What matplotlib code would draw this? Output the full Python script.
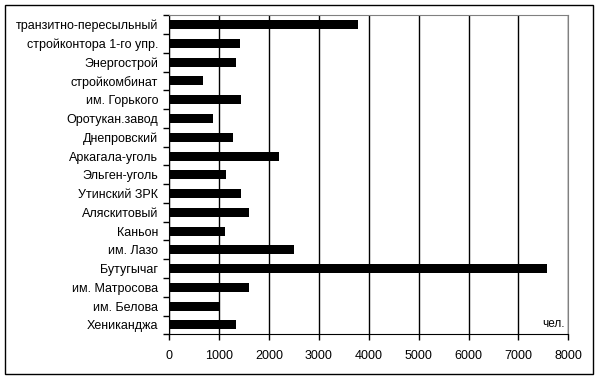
import numpy as np
import matplotlib
matplotlib.use('Agg')
import matplotlib.pyplot as plt
from matplotlib.patches import Rectangle

# данные (сверху вниз)
names = ['транзитно-пересыльный', 'стройконтора 1-го упр.', 'Энергострой', 'стройкомбинат',
         'им. Горького', 'Оротукан.завод', 'Днепровский', 'Аркагала-уголь', 'Эльген-уголь',
         'Утинский ЗРК', 'Аляскитовый', 'Каньон', 'им. Лазо', 'Бутугычаг', 'им. Матросова',
         'им. Белова', 'Хениканджа']
values = [3780, 1420, 1340, 680, 1440, 870, 1270, 2190, 1140, 1440, 1590, 1120, 2500, 7580,
          1590, 1000, 1340]
xticks = [0, 1000, 2000, 3000, 4000, 5000, 6000, 7000, 8000]

plt.rcParams['font.family'] = ['Liberation Sans', 'DejaVu Sans']

fig = plt.figure(figsize=(6, 3.81), dpi=100)
ax = fig.add_axes([0.2822, 0.1226, 0.665, 0.8372])

y = np.arange(len(names))
ax.barh(y, values, height=0.48, color='black', zorder=3)

ax.set_xlim(0, 8000)
ax.set_ylim(len(names) - 0.5, -0.5)
ax.set_xticks(xticks)
ax.set_xticklabels([str(v) for v in xticks], fontsize=9)
ax.set_yticks(y)
ax.set_yticklabels(names, fontsize=9)
ax.set_yticks(np.arange(len(names) + 1) - 0.5, minor=True)
ax.tick_params(axis='y', which='major', length=0, pad=8)
ax.tick_params(axis='y', which='minor', length=4, direction='out', width=1)
ax.tick_params(axis='x', which='major', length=4, direction='out', width=1, pad=7)

ax.grid(axis='x', color='black', linewidth=1, zorder=0)
ax.set_axisbelow(True)

for side in ['top', 'right']:
    ax.spines[side].set_color('#808080')
for side in ['left', 'bottom']:
    ax.spines[side].set_color('black')

ax.text(0.99, 0.012, 'чел.', transform=ax.transAxes, ha='right', va='bottom', fontsize=8.5)

# рамка вокруг диаграммы
fig.patches.append(Rectangle((5.3 / 600, 1 - 374.3 / 381), 588 / 600, 369.3 / 381,
                             transform=fig.transFigure, fill=False, edgecolor='black', linewidth=1))

fig.savefig('out.png', dpi=100)
